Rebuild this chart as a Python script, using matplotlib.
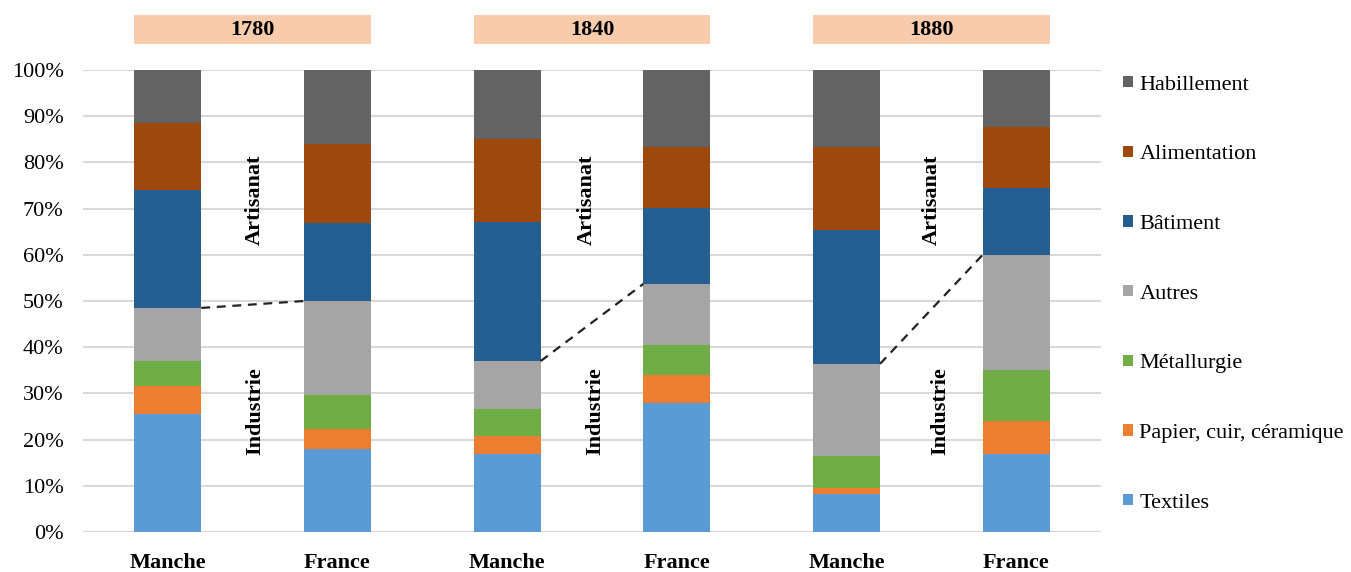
import matplotlib
matplotlib.use("Agg")
import matplotlib.pyplot as plt
from matplotlib.patches import Rectangle, Patch
import numpy as np

plt.rcParams['font.family'] = ['Liberation Serif', 'DejaVu Serif']

bars = ["Manche", "France", "Manche", "France", "Manche", "France"]
years = ["1780", "1840", "1880"]
categories = ["Textiles", "Papier, cuir, céramique", "Métallurgie", "Autres",
              "Bâtiment", "Alimentation", "Habillement"]
textiles     = [25.5, 18.0, 16.9, 27.9,  8.2, 16.9]
papier       = [ 6.1,  4.3,  3.9,  6.1,  1.3,  7.1]
metallurgie  = [ 5.4,  7.4,  5.8,  6.5,  7.0, 11.1]
autres       = [11.5, 20.3, 10.4, 13.2, 19.9, 24.9]
batiment     = [25.5, 16.9, 30.1, 16.4, 29.0, 14.5]
alimentation = [14.5, 17.1, 18.0, 13.2, 17.9, 13.2]
habillement  = [11.5, 16.0, 14.9, 16.7, 16.7, 12.3]

series = [textiles, papier, metallurgie, autres, batiment, alimentation, habillement]
colors = ["#5B9BD5", "#ED7D31", "#70AD47", "#A5A5A5", "#255E91", "#9E480E", "#636363"]

FS = 16

fig = plt.figure(figsize=(13.51, 5.72), dpi=100)
ax = fig.add_axes([0.0614, 0.0699, 0.7536, 0.8077])

x = np.arange(len(bars))
width = 0.395
bottom = np.zeros(len(bars))
for vals, col, lab in zip(series, colors, categories):
    v = np.array(vals) / 100.0
    ax.bar(x, v, width, bottom=bottom, color=col, label=lab, zorder=3)
    bottom += v

ax.set_xlim(-0.5, 5.5)
ax.set_ylim(0, 1)
ax.set_yticks(np.arange(0, 1.01, 0.1))
ax.set_yticklabels([f"{int(round(t*100))}%" for t in np.arange(0, 1.01, 0.1)], fontsize=FS)
ax.set_xticks(x)
ax.set_xticklabels(bars, fontsize=FS, fontweight='bold')
ax.tick_params(axis='y', length=0, pad=14)
ax.tick_params(axis='x', length=0, pad=15)
ax.grid(axis='y', color='#D9D9D9', linewidth=1.5, zorder=0)
for s in ax.spines.values():
    s.set_visible(False)

# Dashed lines between top of Industrie (Autres) segments
ind_top = (np.array(textiles) + np.array(papier) + np.array(metallurgie) + np.array(autres)) / 100.0
for g in range(3):
    i, j = 2 * g, 2 * g + 1
    ax.plot([x[i] + width / 2, x[j] - width / 2], [ind_top[i], ind_top[j]],
            linestyle=(0, (4, 3)), color='#222222', linewidth=1.6, zorder=4)

# Artisanat / Industrie labels
art_x = [0.513, 2.47, 4.50]
ind_x = [0.513, 2.52, 4.55]
for g in range(3):
    ax.text(art_x[g], 0.719, "Artisanat", rotation=90, ha='center', va='center',
            fontsize=FS, fontweight='bold', zorder=5)
    ax.text(ind_x[g], 0.262, "Industrie", rotation=90, ha='center', va='center',
            fontsize=FS, fontweight='bold', zorder=5)

# Year boxes
for g, yr in enumerate(years):
    x0 = x[2 * g] - width / 2
    x1 = x[2 * g + 1] + width / 2
    r = Rectangle((x0, 1.056), x1 - x0, 0.063, facecolor='#F8CBAD', edgecolor='none',
                  clip_on=False, transform=ax.transData)
    ax.add_patch(r)
    ax.text((x0 + x1) / 2, 1.0875, yr, ha='center', va='center', fontsize=FS,
            fontweight='bold', clip_on=False)

handles = [Patch(facecolor=c, edgecolor='none', label=l) for c, l in zip(colors, categories)][::-1]
leg = fig.legend(handles=handles, loc='upper left', bbox_to_anchor=(0.820, 0.895),
                 frameon=False, fontsize=FS, labelspacing=2.28, handlelength=0.42,
                 handleheight=0.42, handletextpad=0.3, borderpad=0.2)

fig.savefig("out.png", dpi=100)
